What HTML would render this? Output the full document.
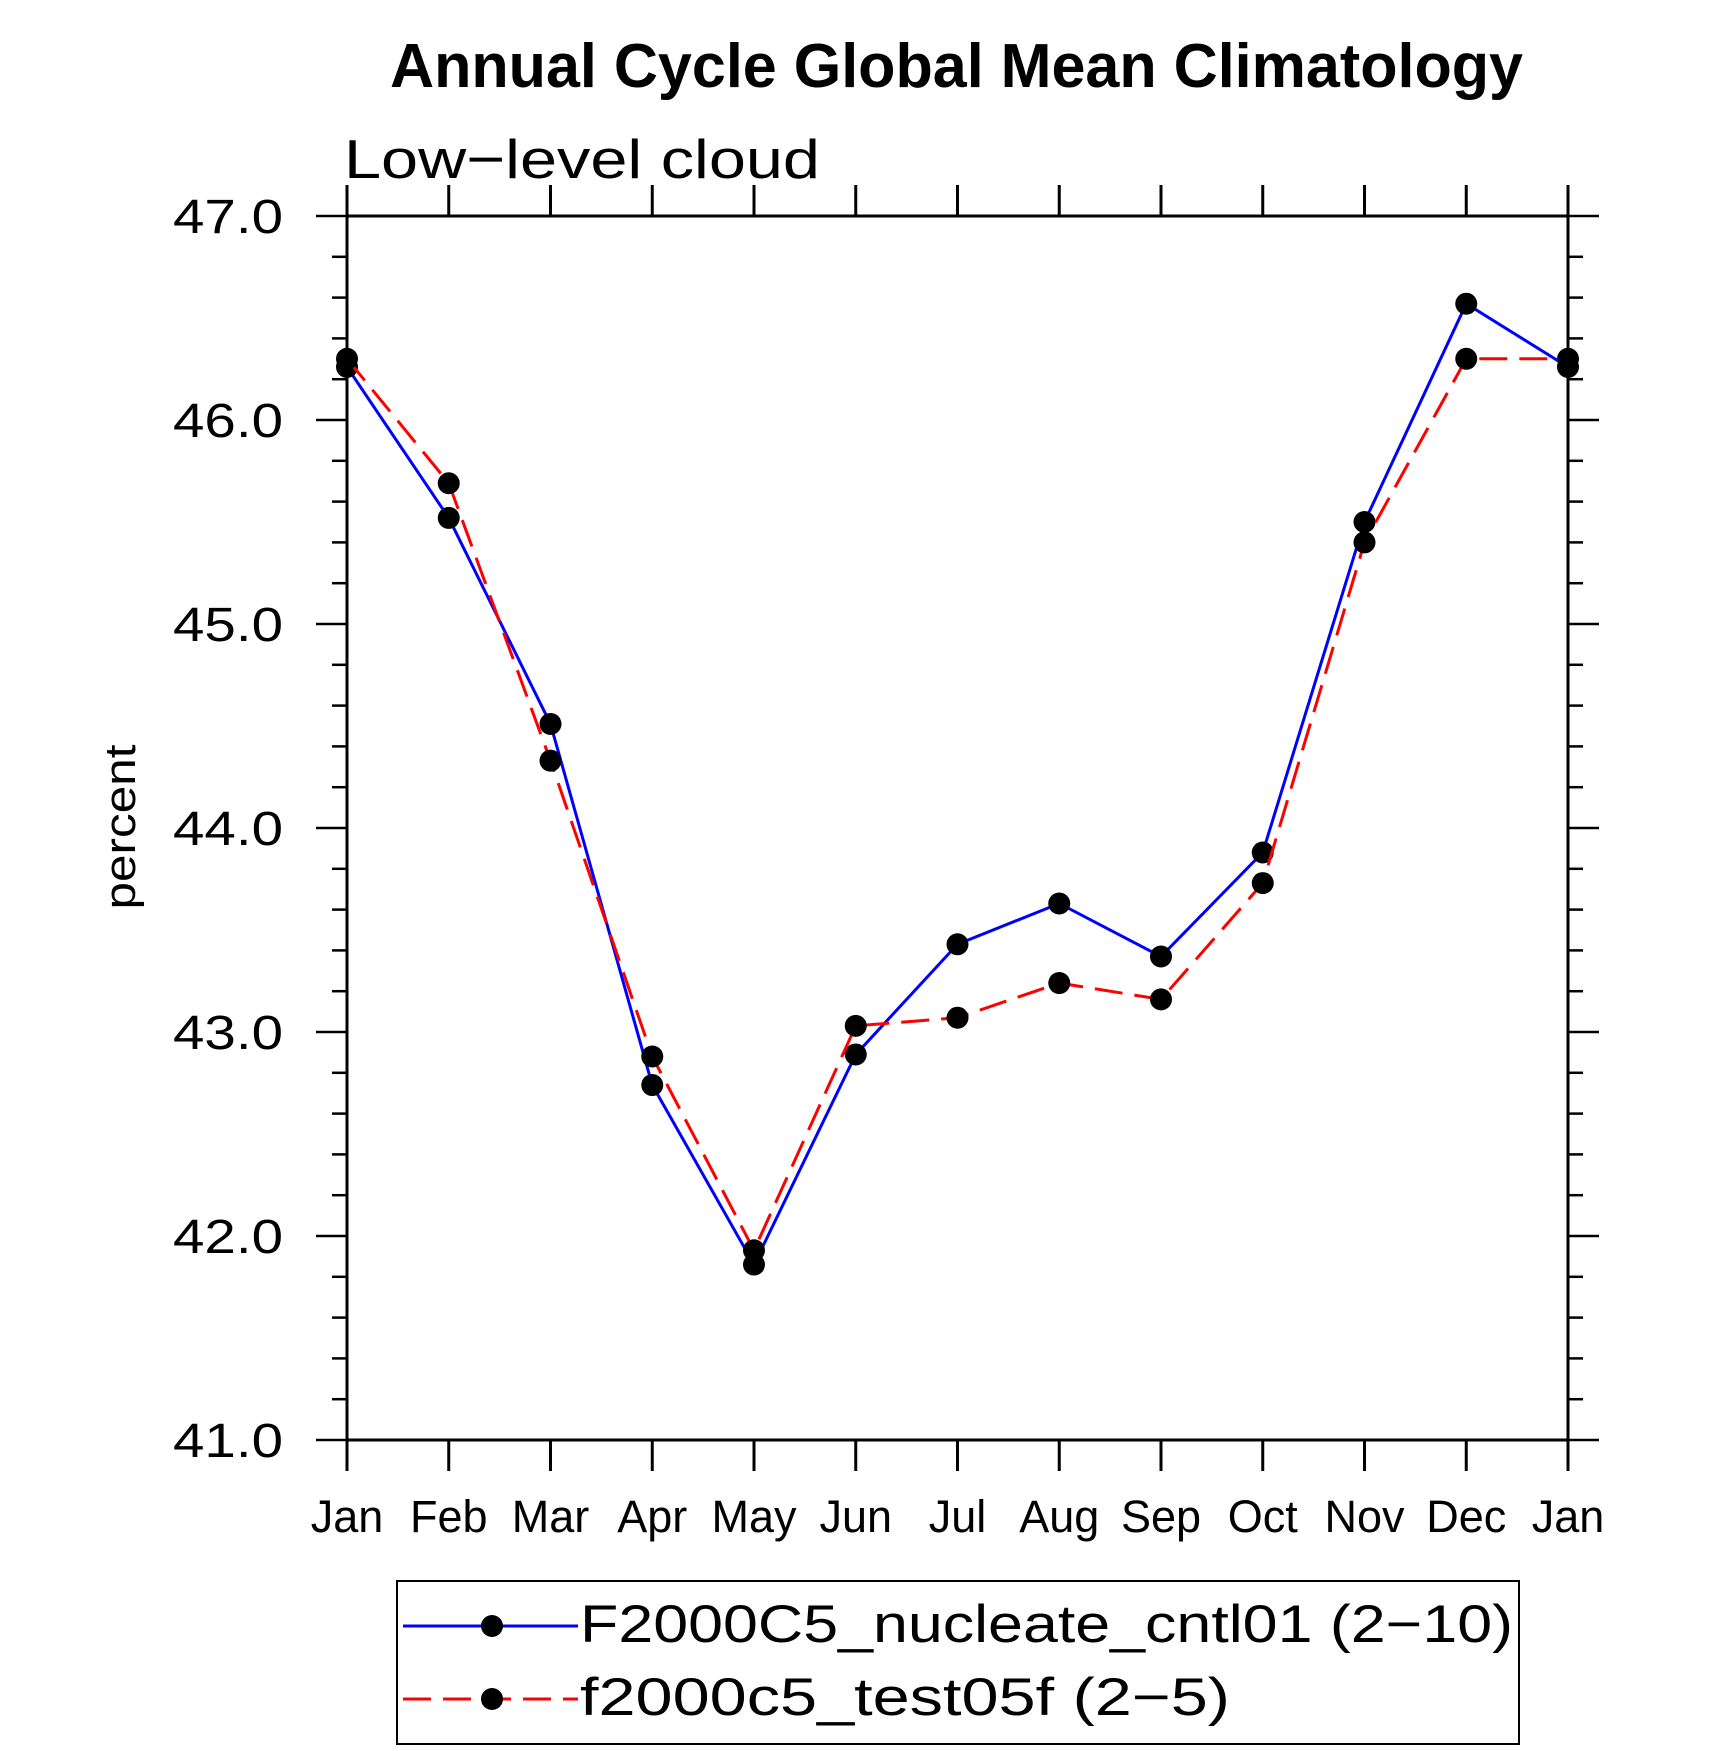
<!DOCTYPE html>
<html><head><meta charset="utf-8"><style>html,body{margin:0;padding:0;background:#fff}svg{display:block}text{font-family:"Liberation Sans",sans-serif}</style></head>
<body>
<svg id="chart" width="1710" height="1751" viewBox="0 0 1710 1751" xmlns="http://www.w3.org/2000/svg">
<text x="390" y="87" font-size="62" font-weight="bold" textLength="1133" lengthAdjust="spacingAndGlyphs">Annual Cycle Global Mean Climatology</text>
<text x="344" y="178" font-size="55" textLength="476" lengthAdjust="spacingAndGlyphs">Low−level cloud</text>
<text transform="translate(135,827) rotate(-90)" text-anchor="middle" font-size="44" textLength="165" lengthAdjust="spacingAndGlyphs">percent</text>
<g id="axes"></g>
<g id="series"></g>
<g>
<rect x="397" y="1581" width="1122" height="163" fill="none" stroke="#000" stroke-width="2"/>
<g>
<line x1="403" y1="1626" x2="578" y2="1626" stroke="#0000ff" stroke-width="3"/>
<circle cx="492" cy="1626" r="11" fill="#000"/>
<text x="580" y="1642" font-size="53" textLength="933" lengthAdjust="spacingAndGlyphs">F2000C5_nucleate_cntl01 (2−10)</text>
</g>
<g>
<line x1="403" y1="1699" x2="578" y2="1699" stroke="#ff0000" stroke-width="3" stroke-dasharray="28,12"/>
<circle cx="492" cy="1699" r="11" fill="#000"/>
<text x="580" y="1715" font-size="53" textLength="650" lengthAdjust="spacingAndGlyphs">f2000c5_test05f (2−5)</text>
</g>
</g>
</svg>
<script>
const months = ["Jan","Feb","Mar","Apr","May","Jun","Jul","Aug","Sep","Oct","Nov","Dec","Jan"];
const cntlValues = [46.26,45.52,44.51,42.74,41.86,42.89,43.43,43.63,43.37,43.88,45.50,46.57,46.26];
const testValues = [46.30,45.69,44.33,42.88,41.93,43.03,43.07,43.24,43.16,43.73,45.40,46.30,46.30];
const yTicks = [41,42,43,44,45,46,47];
const yTickLabels = ["41.0","42.0","43.0","44.0","45.0","46.0","47.0"];
const yMin = 41, yMax = 47;
const L = 347, R = 1568, T = 216, B = 1440;
const NS = "http://www.w3.org/2000/svg";
function xs(i){ return L + (R - L) * i / (months.length - 1); }
function ys(v){ return B - (B - T) * (v - yMin) / (yMax - yMin); }
function mk(tag, attrs, parent){ const e = document.createElementNS(NS, tag); for (const k in attrs) e.setAttribute(k, attrs[k]); parent.appendChild(e); return e; }
const axes = document.getElementById('axes');
const frame = mk('rect', {x:L, y:T, width:R-L, height:B-T, fill:'none', stroke:'#000', 'stroke-width':3}, axes);


// y ticks (major+minor)
for (let k = 0; k <= (yMax - yMin) * 5; k++) {
  const v = yMin + k * 0.2;
  const major = k % 5 === 0;
  const len = major ? 31 : 15;
  const y = ys(v);
  const t1 = mk('line', {x1:L-len, y1:y, x2:L, y2:y, stroke:'#000', 'stroke-width':2.5}, axes);
  
  
  const t2 = mk('line', {x1:R, y1:y, x2:R+len, y2:y, stroke:'#000', 'stroke-width':2.5}, axes);
  
  
}
yTicks.forEach((v, i) => {
  const t = mk('text', {x:283, y:ys(v)+17, 'text-anchor':'end', 'font-size':48, textLength:110, lengthAdjust:'spacingAndGlyphs'}, axes);
  t.textContent = yTickLabels[i];
  
  
});
months.forEach((m, i) => {
  const x = xs(i);
  const tb = mk('line', {x1:x, y1:B, x2:x, y2:B+31, stroke:'#000', 'stroke-width':3}, axes);
  
  
  const tt = mk('line', {x1:x, y1:T-31, x2:x, y2:T, stroke:'#000', 'stroke-width':3}, axes);
  
  
  const t = mk('text', {x:x, y:1532, 'text-anchor':'middle', 'font-size':45}, axes);
  t.textContent = m;
  
  
});
const series = document.getElementById('series');
function drawSeries(vals, color, dash, name){
  const pts = vals.map((v, i) => xs(i) + ',' + ys(v)).join(' ');
  const attrs = {points:pts, fill:'none', stroke:color, 'stroke-width':3};
  if (dash) attrs['stroke-dasharray'] = dash;
  const pl = mk('polyline', attrs, series);
  
  
  vals.forEach((v, i) => {
    const c = mk('circle', {cx:xs(i), cy:ys(v), r:11, fill:'#000'}, series);
    
    
  });
}
drawSeries(cntlValues, '#0000ff', null, 'cntl01');
drawSeries(testValues, '#ff0000', '28,12', 'test05f');
</script>
</body></html>
